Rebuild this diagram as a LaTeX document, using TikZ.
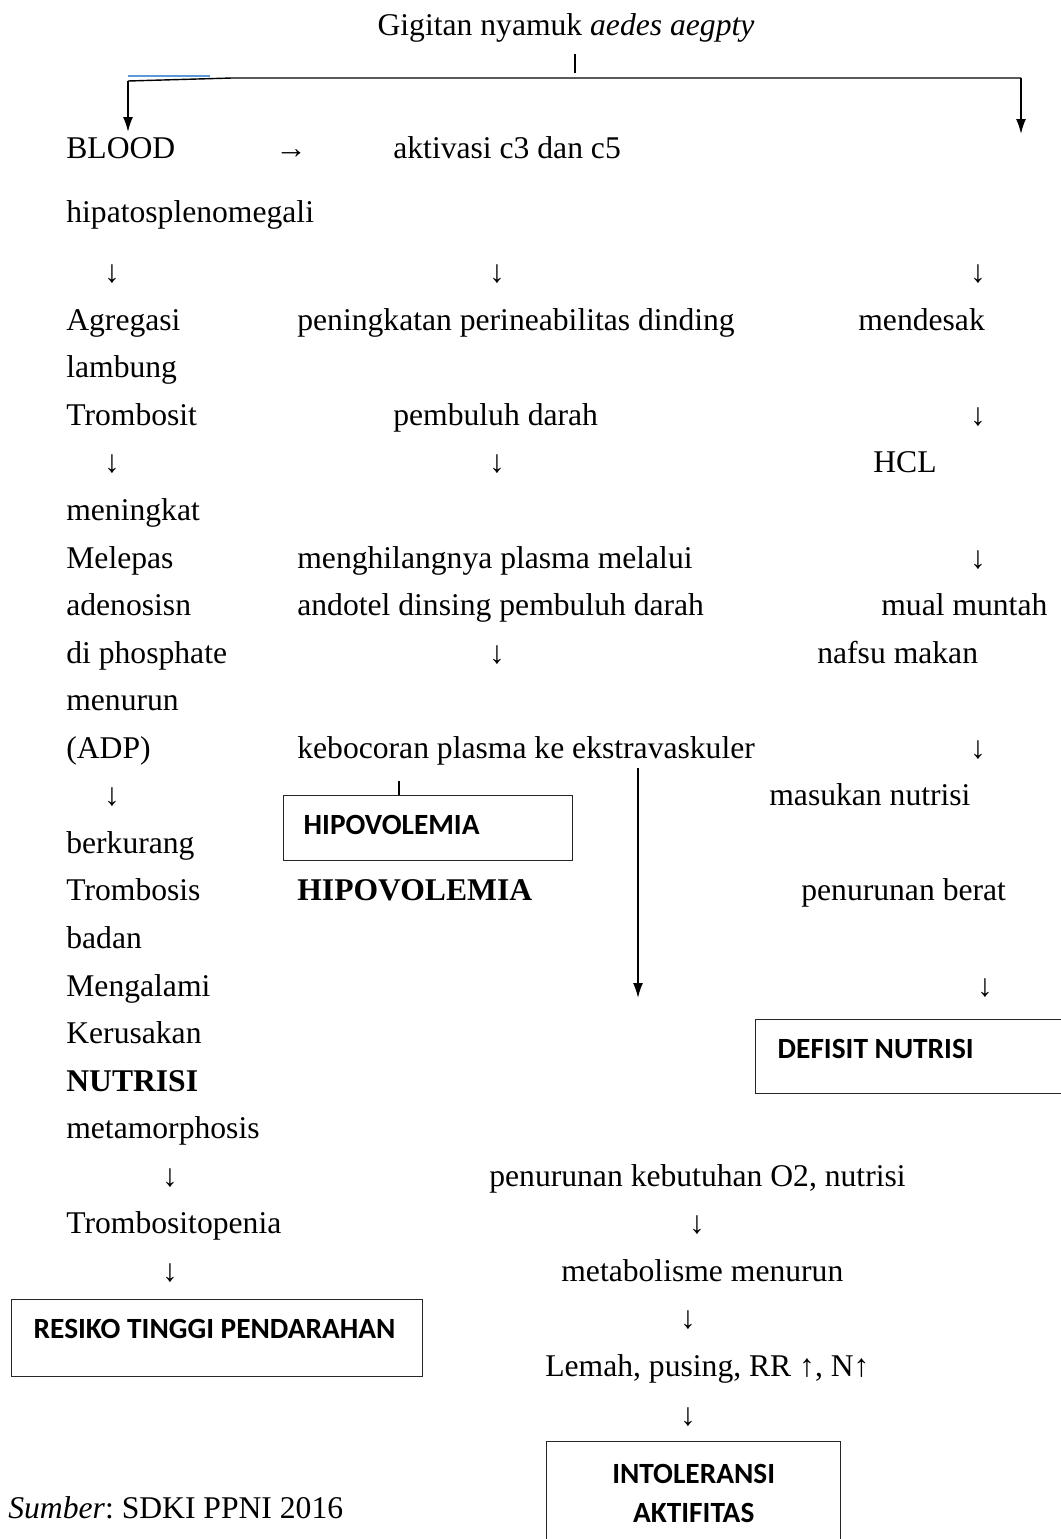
\documentclass[tikz,border=0pt]{standalone}
\usepackage{fontspec}
\setmainfont{Liberation Serif}
\newfontfamily\boxfont{Carlito}
\usetikzlibrary{arrows.meta}
\definecolor{wordblue}{RGB}{91,155,213}
\frenchspacing

\tikzset{
  txt/.style={anchor=west, inner sep=0pt, text height=0.50cm, text depth=0.07cm,
    font=\fontsize{18}{20}\selectfont},
  downsym/.style={txt, anchor=center},
  box/.style={draw=black!85, line width=0.8pt, anchor=north west, inner ysep=0pt,
    align=left, font=\boxfont\bfseries\fontsize{16.7}{22}\selectfont,
    execute at begin node={\spaceskip=0pt\xspaceskip=0pt\relax}},
  flow/.style={-{Latex[length=0.3cm,width=0.2cm]}, line width=1pt},
}

\begin{document}
\begin{tikzpicture}[x=0.02cm, y=-0.02cm]
  \clip (0,0) rectangle (1061,1539);

  % Title and split
  \node[txt, anchor=center] (title) at (566,25) {Gigitan nyamuk \textit{aedes aegpty}};
  \coordinate (stemtop) at (575,54);
  \coordinate (stembot) at (575,73);
  \coordinate (splitL) at (128,81);
  \coordinate (joint) at (232,78);
  \coordinate (splitR) at (1021,78);
  \coordinate (blueA) at (128,76);
  \coordinate (blueB) at (210,76);
  \coordinate (bloodtop) at (128,132);
  \coordinate (rtop) at (1021,134);
  \draw[line width=0.6pt] (stemtop) -- (stembot);
  \draw[wordblue, line width=0.8pt] (blueA) -- (blueB);
  \draw[line width=0.8pt] (splitL) -- (joint) -- (splitR);
  \draw[flow] (splitL) -- (bloodtop);
  \draw[flow] (splitR) -- (rtop);

  % Left column
  \foreach \t/\y [count=\i] in {BLOOD/148, hipatosplenomegali/212, Agregasi/320,
      lambung/367, Trombosit/415, meningkat/510, Melepas/558, adenosisn/605,
      di phosphate/653, menurun/700, {(ADP)}/748, berkurang/843, Trombosis/890,
      badan/938, Mengalami/986, Kerusakan/1033, metamorphosis/1128,
      Trombositopenia/1223}
    \node[txt] (left\i) at (66,\y) {\t};
  \node[txt] (nutrisi) at (66,1081) {\textbf{NUTRISI}};

  % Middle column
  \node[txt] (tobc) at (275,148) {→};
  \node[txt] (aktivasi) at (393,148) {aktivasi c3 dan c5};
  \node[txt] (pening) at (297,320) {peningkatan perineabilitas dinding};
  \node[txt] (pembuluh) at (393,415) {pembuluh darah};
  \node[txt] (hilang) at (297,558) {menghilangnya plasma melalui};
  \node[txt] (andotel) at (297,605) {andotel dinsing pembuluh darah};
  \node[txt] (bocor) at (297,748) {kebocoran plasma ke ekstravaskuler};
  \node[txt] (hipotxt) at (297,890) {\textbf{HIPOVOLEMIA}};

  % Right column
  \node[txt] (desak) at (858,320) {mendesak};
  \node[txt] (hcl) at (873,462) {HCL};
  \node[txt] (mual) at (881,605) {mual muntah};
  \node[txt] (nafsu) at (817,653) {nafsu makan};
  \node[txt] (masukan) at (769,795) {masukan nutrisi};
  \node[txt] (berat) at (801,890) {penurunan berat};

  % Lower part
  \node[txt] (butuh) at (489,1176) {penurunan kebutuhan O2, nutrisi};
  \node[txt] (metab) at (561,1271) {metabolisme menurun};
  \node[txt] (lemah) at (545,1366) {Lemah, pusing, RR ↑, N↑};
  \node[txt] (sumber) at (8,1508) {\textit{Sumber}: SDKI PPNI 2016};

  % Down arrows as text
  \foreach \x/\y [count=\i] in {112/272, 497/272, 978/272, 978/415, 112/462,
      497/462, 978/558, 497/653, 978/748, 112/795, 985/986, 170/1176,
      697/1223, 170/1271, 688/1318, 688/1415}
    \node[downsym] (down\i) at (\x,\y) {↓};

  % Boxes
  \node[box, inner xsep=0.4cm, text width=4.98cm, text height=0.78cm, text depth=0.52cm]
    (hipo) at (283,795) {HIPOVOLEMIA};
  \node[box, inner xsep=0.44cm, text width=5.72cm, text height=0.78cm, text depth=0.70cm]
    (defisit) at (755,1019) {DEFISIT NUTRISI};
  \node[box, inner xsep=0.44cm, text width=7.34cm, text height=0.78cm, text depth=0.76cm]
    (resiko) at (11,1299) {RESIKO TINGGI PENDARAHAN};
  \node[box, align=center, inner xsep=0.44cm, text width=5cm, minimum height=2.08cm]
    (intol) at (546,1441) {INTOLERANSI\\AKTIFITAS};

  % Connectors
  \coordinate (stub) at (399,781);
  \draw[line width=0.6pt] (stub) -- (stub |- hipo.north);
  \coordinate (leakA) at (638,768);
  \coordinate (leakB) at (638,998);
  \draw[flow] (leakA) -- (leakB);

\end{tikzpicture}
\end{document}
